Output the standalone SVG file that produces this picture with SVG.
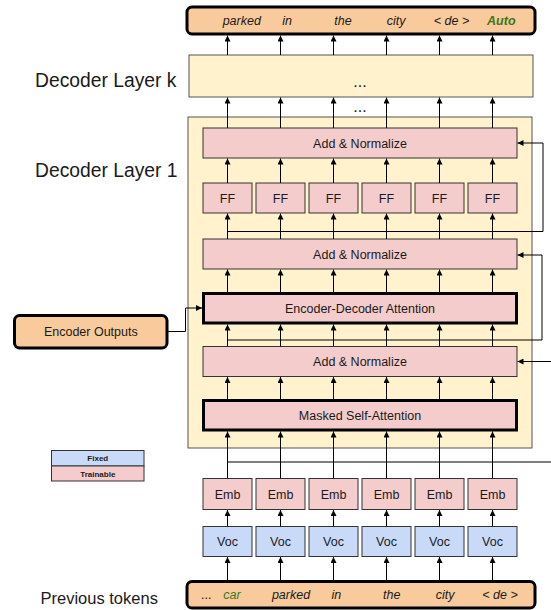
<svg xmlns="http://www.w3.org/2000/svg" width="551" height="610" viewBox="0 0 551 610">
<defs>
<marker id="ah" markerUnits="userSpaceOnUse" markerWidth="7" markerHeight="6" refX="6" refY="3" orient="auto">
<path d="M0,0 L6,3 L0,6 z" fill="#000"/>
</marker>
<style>
text{font-family:"Liberation Sans",Arial,sans-serif;fill:#1a1a1a}
.lbl{font-size:12.5px;text-anchor:middle}
.big{font-size:19.3px}
.tok{font-size:12.5px;font-style:italic;text-anchor:middle}
.grn{fill:#38761d}
.leg{font-size:8px;font-weight:bold;text-anchor:middle}
.pink{fill:#f4cccc;stroke:#333;stroke-width:1}
.blue{fill:#c9daf8;stroke:#333;stroke-width:1}
.thick{fill:#f4cccc;stroke:#000;stroke-width:3}
.orange{fill:#f9cb9c;stroke:#000;stroke-width:3}
.layer{fill:#fff2cc;stroke:#555;stroke-width:1}
.c line,.c polyline{stroke:#000;stroke-width:1;fill:none}
.c .a{marker-end:url(#ah)}
</style>
</defs>

<g id="labels">
<text class="big" x="35" y="87">Decoder Layer k</text>
<text class="big" x="35" y="177">Decoder Layer 1</text>
<text x="40.5" y="603.5" style="font-size:16.5px">Previous tokens</text>
</g>

<g id="output-tokens">
<rect class="orange" x="187" y="7" width="348" height="27" rx="5"/>
<text class="tok" x="241.8" y="25">parked</text>
<text class="tok" x="287" y="25">in</text>
<text class="tok" x="343" y="25">the</text>
<text class="tok" x="396" y="25">city</text>
<text class="tok" x="451.5" y="25">&lt; de &gt;</text>
<text class="tok grn" x="501.3" y="25" font-weight="bold">Auto</text>
</g>

<g id="decoder-layer-k">
<rect class="layer" x="189" y="55" width="344" height="42"/>
<text class="lbl" x="360" y="87" style="font-size:16px">...</text>
</g>
<text class="lbl" x="360" y="112" style="font-size:16px">...</text>

<g id="decoder-layer-1">
<rect class="layer" x="188" y="117" width="344" height="331"/>
</g>

<g id="add-norm-1">
<rect class="pink" x="203" y="128" width="314" height="30"/>
<text class="lbl" x="360" y="147.5">Add &amp; Normalize</text>
</g>

<g id="ff">
<rect class="pink" x="203" y="183" width="49" height="30"/><text class="lbl" x="227.5" y="202.5">FF</text>
<rect class="pink" x="256" y="183" width="49" height="30"/><text class="lbl" x="280.5" y="202.5">FF</text>
<rect class="pink" x="309" y="183" width="49" height="30"/><text class="lbl" x="333.5" y="202.5">FF</text>
<rect class="pink" x="362" y="183" width="49" height="30"/><text class="lbl" x="386.5" y="202.5">FF</text>
<rect class="pink" x="415" y="183" width="49" height="30"/><text class="lbl" x="439.5" y="202.5">FF</text>
<rect class="pink" x="468" y="183" width="49" height="30"/><text class="lbl" x="492.5" y="202.5">FF</text>
</g>

<g id="add-norm-2">
<rect class="pink" x="203" y="239" width="314" height="30"/>
<text class="lbl" x="360" y="258.5">Add &amp; Normalize</text>
</g>

<g id="enc-dec-attention">
<rect class="thick" x="203.5" y="293.5" width="313" height="29.5"/>
<text class="lbl" x="360" y="312.5">Encoder-Decoder Attention</text>
</g>

<g id="add-norm-3">
<rect class="pink" x="203" y="346.5" width="314" height="30"/>
<text class="lbl" x="360" y="366">Add &amp; Normalize</text>
</g>

<g id="masked-self-attention">
<rect class="thick" x="203.5" y="400.5" width="313" height="29.5"/>
<text class="lbl" x="360" y="419.5">Masked Self-Attention</text>
</g>

<g id="encoder-outputs">
<rect class="orange" x="14.5" y="315.5" width="152.5" height="32.5" rx="5"/>
<text class="lbl" x="90.8" y="336">Encoder Outputs</text>
</g>

<g id="emb">
<rect class="pink" x="203" y="478.5" width="49" height="31"/><text class="lbl" x="227.5" y="498.5">Emb</text>
<rect class="pink" x="256" y="478.5" width="49" height="31"/><text class="lbl" x="280.5" y="498.5">Emb</text>
<rect class="pink" x="309" y="478.5" width="49" height="31"/><text class="lbl" x="333.5" y="498.5">Emb</text>
<rect class="pink" x="362" y="478.5" width="49" height="31"/><text class="lbl" x="386.5" y="498.5">Emb</text>
<rect class="pink" x="415" y="478.5" width="49" height="31"/><text class="lbl" x="439.5" y="498.5">Emb</text>
<rect class="pink" x="468" y="478.5" width="49" height="31"/><text class="lbl" x="492.5" y="498.5">Emb</text>
</g>

<g id="voc">
<rect class="blue" x="203" y="526.5" width="49" height="30"/><text class="lbl" x="227.5" y="546">Voc</text>
<rect class="blue" x="256" y="526.5" width="49" height="30"/><text class="lbl" x="280.5" y="546">Voc</text>
<rect class="blue" x="309" y="526.5" width="49" height="30"/><text class="lbl" x="333.5" y="546">Voc</text>
<rect class="blue" x="362" y="526.5" width="49" height="30"/><text class="lbl" x="386.5" y="546">Voc</text>
<rect class="blue" x="415" y="526.5" width="49" height="30"/><text class="lbl" x="439.5" y="546">Voc</text>
<rect class="blue" x="468" y="526.5" width="49" height="30"/><text class="lbl" x="492.5" y="546">Voc</text>
</g>

<g id="previous-tokens">
<rect class="orange" x="187" y="581.5" width="348" height="26.5" rx="5"/>
<text class="tok" x="206.7" y="599">...</text>
<text class="tok grn" x="232" y="599">car</text>
<text class="tok" x="291" y="599">parked</text>
<text class="tok" x="336.3" y="599">in</text>
<text class="tok" x="391.7" y="599">the</text>
<text class="tok" x="445" y="599">city</text>
<text class="tok" x="500" y="599">&lt; de &gt;</text>
</g>

<g id="legend">
<rect class="blue" x="51.5" y="450.5" width="92.5" height="15.5"/>
<text class="leg" x="97.8" y="461">Fixed</text>
<rect class="pink" x="51.5" y="466" width="92.5" height="15"/>
<text class="leg" x="97.8" y="476.5">Trainable</text>
</g>

<g id="connectors" class="c">
<!-- prev tokens to Voc -->
<line class="a" x1="227.5" y1="580" x2="227.5" y2="557"/>
<line class="a" x1="280.5" y1="580" x2="280.5" y2="557"/>
<line class="a" x1="333.5" y1="580" x2="333.5" y2="557"/>
<line class="a" x1="386.5" y1="580" x2="386.5" y2="557"/>
<line class="a" x1="439.5" y1="580" x2="439.5" y2="557"/>
<line class="a" x1="492.5" y1="580" x2="492.5" y2="557"/>
<!-- Voc to Emb -->
<line class="a" x1="227.5" y1="526.5" x2="227.5" y2="510"/>
<line class="a" x1="280.5" y1="526.5" x2="280.5" y2="510"/>
<line class="a" x1="333.5" y1="526.5" x2="333.5" y2="510"/>
<line class="a" x1="386.5" y1="526.5" x2="386.5" y2="510"/>
<line class="a" x1="439.5" y1="526.5" x2="439.5" y2="510"/>
<line class="a" x1="492.5" y1="526.5" x2="492.5" y2="510"/>
<!-- Emb to Masked -->
<line class="a" x1="227.5" y1="478.5" x2="227.5" y2="431.5"/>
<line class="a" x1="280.5" y1="478.5" x2="280.5" y2="431.5"/>
<line class="a" x1="333.5" y1="478.5" x2="333.5" y2="431.5"/>
<line class="a" x1="386.5" y1="478.5" x2="386.5" y2="431.5"/>
<line class="a" x1="439.5" y1="478.5" x2="439.5" y2="431.5"/>
<line class="a" x1="492.5" y1="478.5" x2="492.5" y2="431.5"/>
<!-- Masked to A&N3 -->
<line class="a" x1="227.5" y1="399" x2="227.5" y2="377"/>
<line class="a" x1="280.5" y1="399" x2="280.5" y2="377"/>
<line class="a" x1="333.5" y1="399" x2="333.5" y2="377"/>
<line class="a" x1="386.5" y1="399" x2="386.5" y2="377"/>
<line class="a" x1="439.5" y1="399" x2="439.5" y2="377"/>
<line class="a" x1="492.5" y1="399" x2="492.5" y2="377"/>
<!-- A&N3 to EncDec -->
<line class="a" x1="227.5" y1="346.5" x2="227.5" y2="324.5"/>
<line class="a" x1="280.5" y1="346.5" x2="280.5" y2="324.5"/>
<line class="a" x1="333.5" y1="346.5" x2="333.5" y2="324.5"/>
<line class="a" x1="386.5" y1="346.5" x2="386.5" y2="324.5"/>
<line class="a" x1="439.5" y1="346.5" x2="439.5" y2="324.5"/>
<line class="a" x1="492.5" y1="346.5" x2="492.5" y2="324.5"/>
<!-- EncDec to A&N2 -->
<line class="a" x1="227.5" y1="292" x2="227.5" y2="269.5"/>
<line class="a" x1="280.5" y1="292" x2="280.5" y2="269.5"/>
<line class="a" x1="333.5" y1="292" x2="333.5" y2="269.5"/>
<line class="a" x1="386.5" y1="292" x2="386.5" y2="269.5"/>
<line class="a" x1="439.5" y1="292" x2="439.5" y2="269.5"/>
<line class="a" x1="492.5" y1="292" x2="492.5" y2="269.5"/>
<!-- A&N2 to FF -->
<line class="a" x1="227.5" y1="239" x2="227.5" y2="213.5"/>
<line class="a" x1="280.5" y1="239" x2="280.5" y2="213.5"/>
<line class="a" x1="333.5" y1="239" x2="333.5" y2="213.5"/>
<line class="a" x1="386.5" y1="239" x2="386.5" y2="213.5"/>
<line class="a" x1="439.5" y1="239" x2="439.5" y2="213.5"/>
<line class="a" x1="492.5" y1="239" x2="492.5" y2="213.5"/>
<!-- FF to A&N1 -->
<line class="a" x1="227.5" y1="183" x2="227.5" y2="158.5"/>
<line class="a" x1="280.5" y1="183" x2="280.5" y2="158.5"/>
<line class="a" x1="333.5" y1="183" x2="333.5" y2="158.5"/>
<line class="a" x1="386.5" y1="183" x2="386.5" y2="158.5"/>
<line class="a" x1="439.5" y1="183" x2="439.5" y2="158.5"/>
<line class="a" x1="492.5" y1="183" x2="492.5" y2="158.5"/>
<!-- A&N1 to layer k -->
<line class="a" x1="227.5" y1="128" x2="227.5" y2="97.5"/>
<line class="a" x1="280.5" y1="128" x2="280.5" y2="97.5"/>
<line class="a" x1="333.5" y1="128" x2="333.5" y2="97.5"/>
<line class="a" x1="386.5" y1="128" x2="386.5" y2="97.5"/>
<line class="a" x1="439.5" y1="128" x2="439.5" y2="97.5"/>
<line class="a" x1="492.5" y1="128" x2="492.5" y2="97.5"/>
<!-- layer k to output -->
<line class="a" x1="227.5" y1="55" x2="227.5" y2="35.5"/>
<line class="a" x1="280.5" y1="55" x2="280.5" y2="35.5"/>
<line class="a" x1="333.5" y1="55" x2="333.5" y2="35.5"/>
<line class="a" x1="386.5" y1="55" x2="386.5" y2="35.5"/>
<line class="a" x1="439.5" y1="55" x2="439.5" y2="35.5"/>
<line class="a" x1="492.5" y1="55" x2="492.5" y2="35.5"/>
<!-- residuals -->
<polyline class="a" points="227.5,231.5 543,231.5 543,143 517.5,143"/>
<polyline class="a" points="227.5,340 542,340 542,255 517.5,255"/>
<line x1="227.5" y1="462" x2="551" y2="462"/>
<line class="a" x1="551" y1="361.5" x2="517.5" y2="361.5"/>
<!-- encoder outputs -->
<polyline class="a" points="167,331.5 185.5,331.5 185.5,308 202,308"/>
</g>
</svg>
